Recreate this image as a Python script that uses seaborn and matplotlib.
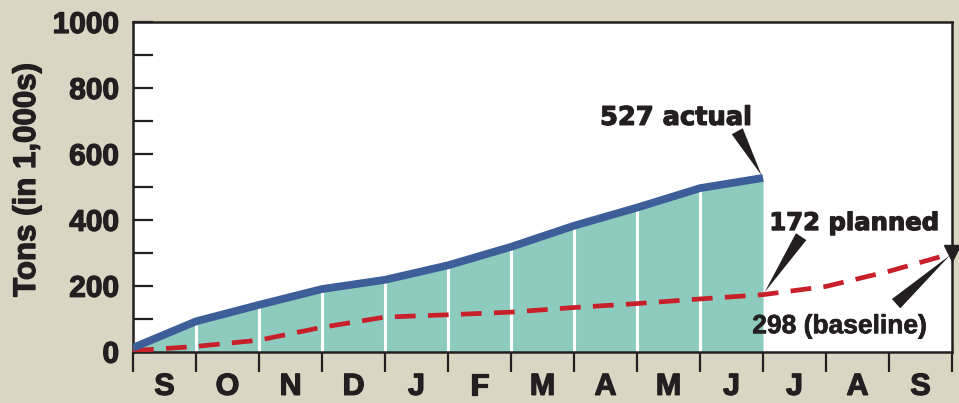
import matplotlib
matplotlib.use("Agg")
import matplotlib.pyplot as plt
import matplotlib.patheffects as pe
import seaborn as sns
import numpy as np
import pandas as pd

# ---- data ----
months = ["S", "O", "N", "D", "J", "F", "M", "A", "M", "J", "J", "A", "S"]
actual_pos = [0, 1, 2, 3, 4, 5, 6, 7, 8, 9, 10]
actual_vals = [12, 92, 142, 190, 218, 262, 318, 382, 437, 496, 527]
planned_pos = [0, 1, 2, 3, 4, 5, 6, 7, 8, 9, 10, 11, 12, 13]
planned_vals = [3, 16, 35, 74, 105, 112, 120, 134, 146, 160, 173, 198, 244, 298]
y_ticks = [0, 200, 400, 600, 800, 1000]

BG = "#dbd5c3"
TEAL = "#8ecbbf"
BLUE = "#3d5e98"
RED = "#c8202a"
INK = "#231f20"

sns.set_theme(style="white")
plt.rcParams["font.family"] = ["Liberation Sans", "DejaVu Sans"]
plt.rcParams["font.weight"] = "bold"

heavy = [pe.withStroke(linewidth=0.9, foreground=INK)]

fig = plt.figure(figsize=(9.59, 4.03), dpi=100, facecolor=BG)
ax = fig.add_axes([133 / 959, 1 - 351.7 / 403, (952 - 133) / 959, (351.7 - 22) / 403])
ax.set_facecolor("white")

df_a = pd.DataFrame({"x": actual_pos, "y": actual_vals})
df_p = pd.DataFrame({"x": planned_pos, "y": planned_vals})

ax.fill_between(df_a["x"], 0, df_a["y"], color=TEAL, lw=0, zorder=1)
ax.vlines(df_a["x"][1:-1], 0, df_a["y"][1:-1] - 6, color="white", lw=2.2, zorder=2)

sns.lineplot(data=df_a, x="x", y="y", ax=ax, color=BLUE, lw=5.6, zorder=4,
             solid_capstyle="butt", solid_joinstyle="miter")
sns.lineplot(data=df_p, x="x", y="y", ax=ax, color=RED, lw=3.4, zorder=3,
             dashes=False)
ax.lines[-1].set_dashes([4.4, 2.6])
ax.lines[-1].set_dash_capstyle("butt")

ax.set_xlim(0, 13)
ax.set_ylim(0, 1000)
ax.set_xlabel("")
ax.set_ylabel("")

# y ticks: inward at every 100, labels every 200
ax.set_yticks(np.arange(0, 1001, 100))
ax.set_yticklabels([str(v) if v in y_ticks else "" for v in np.arange(0, 1001, 100)])
ax.tick_params(axis="y", direction="in", length=14.5, width=1.6, color=INK,
               left=True, labelsize=21.5, labelcolor=INK, pad=10)

# x ticks: outward at month boundaries, labels at month centers
ax.set_xticks(planned_pos)
ax.set_xticklabels([""] * len(planned_pos))
ax.set_xticks(np.array(planned_pos[:-1]) + 0.5, minor=True)
ax.set_xticklabels(months, minor=True)
ax.tick_params(axis="x", which="major", direction="out", length=14.5, width=1.6,
               color=INK, bottom=True)
ax.tick_params(axis="x", which="minor", length=0, labelsize=22, labelcolor=INK, pad=14.5)

for sp in ax.spines.values():
    sp.set_color(INK)
    sp.set_linewidth(1.8)

for lab in ax.get_xticklabels(minor=True) + ax.get_yticklabels():
    lab.set_fontweight("bold")
    lab.set_path_effects(heavy)

fig.text(27 / 959, 1 - 180 / 403, "Tons (in 1,000s)", rotation=90, ha="center",
         va="center", fontsize=22.5, fontweight="bold", color=INK, path_effects=heavy)

# annotations
wedge = dict(arrowstyle="wedge,tail_width=0.75,shrink_factor=0.5", color=INK, lw=0)
ax.annotate("", xy=(actual_pos[-1], actual_vals[-1]), xytext=(9.57, 676),
            arrowprops=wedge, annotation_clip=False)
ax.text(8.62, 688, "527 actual", ha="center", va="baseline", fontsize=18.5,
        fontweight="bold", color=INK, family=["DejaVu Sans"], path_effects=heavy)

ax.annotate("", xy=(planned_pos[10], planned_vals[10]), xytext=(10.63, 356),
            arrowprops=wedge, annotation_clip=False)
ax.text(10.1, 369, "172 planned", ha="left", va="baseline", fontsize=17.5,
        fontweight="bold", color=INK, family=["DejaVu Sans"], path_effects=heavy)

ax.annotate("", xy=(planned_pos[-1], planned_vals[-1]), xytext=(12.08, 140),
            arrowprops=wedge, annotation_clip=False)
ax.plot([planned_pos[-1]], [planned_vals[-1]], marker="v", ms=11, color=INK,
        clip_on=False, zorder=6)
ax.text(9.83, 56, "298 (baseline)", ha="left", va="baseline", fontsize=19,
        fontweight="bold", color=INK, path_effects=[pe.withStroke(linewidth=0.5, foreground=INK)])

fig.savefig("out.png", dpi=100, facecolor=BG)
